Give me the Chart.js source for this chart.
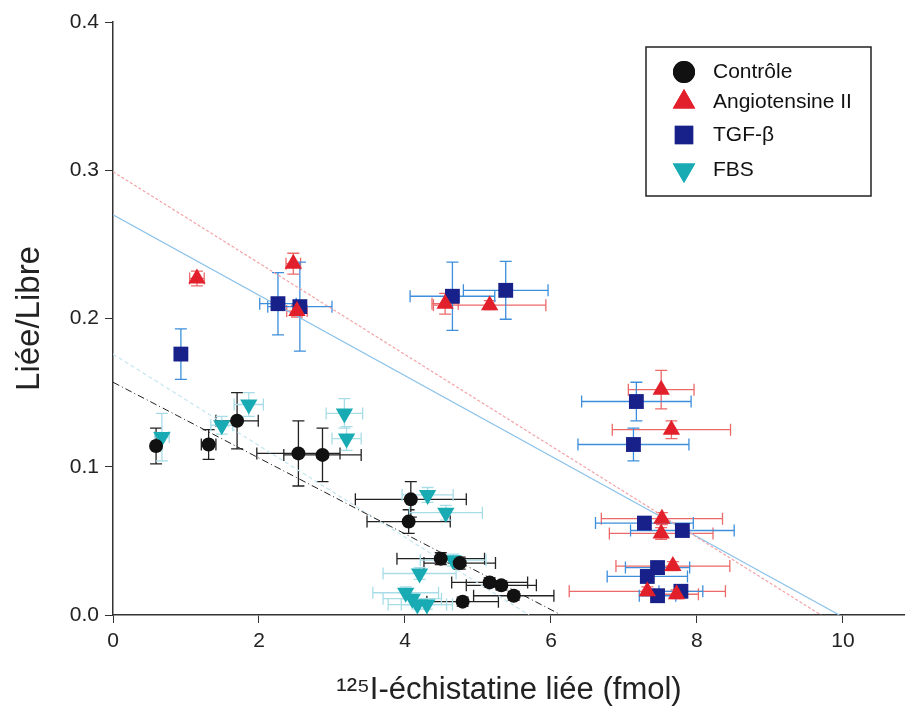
<!DOCTYPE html>
<html>
<head>
<meta charset="utf-8">
<script src="https://cdn.jsdelivr.net/npm/chart.js@4.4.1/dist/chart.umd.min.js"></script>
<style>
  html, body { margin: 0; padding: 0; background: #fff; }
  #wrap { width: 905px; height: 719px; }
</style>
</head>
<body>
<div id="wrap"><canvas id="chart" width="905" height="719"></canvas></div>
<script>
// Contrôle
const ctrlX    = [0.59, 1.31, 1.70, 2.54, 2.87, 4.08, 4.05, 4.49, 4.75, 5.16, 5.32, 5.49, 4.79];
const ctrlY    = [0.114, 0.115, 0.131, 0.109, 0.108, 0.078, 0.063, 0.038, 0.035, 0.022, 0.020, 0.013, 0.009];
const ctrlXErr = [0.05, 0.10, 0.29, 0.57, 0.53, 0.76, 0.57, 0.60, 0.49, 0.52, 0.48, 0.55, 0.49];
const ctrlYErr = [0.012, 0.010, 0.019, 0.022, 0.018, 0.012, 0.008, 0.004, 0.004, 0.003, 0.003, 0.003, 0.003];

// Angiotensine II
const angX    = [1.15, 2.47, 2.52, 4.55, 5.16, 7.51, 7.65, 7.52, 7.51, 7.67, 7.32, 7.72];
const angY    = [0.227, 0.237, 0.205, 0.210, 0.209, 0.152, 0.125, 0.065, 0.055, 0.033, 0.016, 0.014];
const angXErr = [0.10, 0.10, 0.14, 0.18, 0.77, 0.45, 0.81, 0.83, 0.71, 0.78, 1.07, 0.30];
const angYErr = [0.005, 0.007, 0.004, 0.007, 0.003, 0.013, 0.006, 0.004, 0.004, 0.003, 0.003, 0.003];

// TGF-beta
const tgfX    = [0.93, 2.26, 2.56, 4.65, 5.38, 7.17, 7.13, 7.28, 7.80, 7.46, 7.32, 7.46, 7.78];
const tgfY    = [0.176, 0.210, 0.208, 0.215, 0.219, 0.144, 0.115, 0.062, 0.057, 0.032, 0.026, 0.013, 0.016];
const tgfXErr = [0.03, 0.25, 0.44, 0.58, 0.58, 0.75, 0.76, 0.67, 0.71, 0.44, 0.55, 0.25, 0.30];
const tgfYErr = [0.017, 0.021, 0.030, 0.023, 0.0195, 0.013, 0.011, 0.003, 0.003, 0.003, 0.003, 0.003, 0.003];

// FBS
const fbsX    = [0.67, 1.49, 1.86, 3.17, 3.20, 4.31, 4.56, 4.66, 4.20, 4.01, 4.10, 4.17, 4.30];
const fbsY    = [0.120, 0.128, 0.142, 0.136, 0.119, 0.081, 0.069, 0.037, 0.028, 0.015, 0.011, 0.007, 0.007];
const fbsXErr = [0.10, 0.15, 0.20, 0.25, 0.20, 0.35, 0.50, 0.45, 0.50, 0.45, 0.40, 0.40, 0.35];
const fbsYErr = [0.016, 0.006, 0.008, 0.010, 0.008, 0.005, 0.005, 0.004, 0.004, 0.004, 0.004, 0.003, 0.003];

// regression lines: y-intercept and x-intercept
const ctrlFit = { y0: 0.157, x0: 6.14 };
const angFit  = { y0: 0.299, x0: 9.70 };
const tgfFit  = { y0: 0.270, x0: 9.95 };
const fbsFit  = { y0: 0.176, x0: 5.70 };

const xTicksMax = 10.85;
const yTicksMax = 0.4;

const fontFam = '"Liberation Sans", Arial, sans-serif';

function pts(xs, ys, xe, ye) {
  return xs.map((x, i) => ({ x: x, y: ys[i], xErr: xe[i], yErr: ye[i] }));
}
function fitLine(f) {
  return [{ x: 0, y: f.y0 }, { x: f.x0, y: 0 }];
}

const series = [
  { label: 'Contrôle', data: pts(ctrlX, ctrlY, ctrlXErr, ctrlYErr), color: '#111111', errColor: '#222222', style: 'circle', radius: 7, rot: 0, legR: 11 },
  { label: 'Angiotensine II', data: pts(angX, angY, angXErr, angYErr), color: '#e2202c', errColor: '#ec6a6a', style: 'triangle', radius: 10, rot: 0, legR: 13 },
  { label: 'TGF-β', data: pts(tgfX, tgfY, tgfXErr, tgfYErr), color: '#18218a', errColor: '#3d8fdc', style: 'rect', radius: 10.5, rot: 0, legR: 13 },
  { label: 'FBS', data: pts(fbsX, fbsY, fbsXErr, fbsYErr), color: '#18abb3', errColor: '#a8dde8', style: 'triangle', radius: 10, rot: 180, legR: 13 }
];

const lineSets = [
  { data: fitLine(ctrlFit), color: '#222222', dash: [7, 3, 1, 3], width: 1 },
  { data: fitLine(angFit), color: '#f3a3a8', dash: [3, 2], width: 1.2 },
  { data: fitLine(tgfFit), color: '#8cc2ea', dash: [], width: 1.2 },
  { data: fitLine(fbsFit), color: '#c4e6ee', dash: [4, 3], width: 1.2 }
];

const datasets = [];
lineSets.forEach(l => {
  datasets.push({
    type: 'line', data: l.data, borderColor: l.color, borderDash: l.dash, borderWidth: l.width,
    pointRadius: 0, fill: false, order: 10, isFit: true
  });
});
series.forEach(s => {
  datasets.push({
    type: 'scatter', label: s.label, data: s.data,
    backgroundColor: s.color, borderColor: s.color, borderWidth: 0,
    pointStyle: s.style, pointRadius: s.radius, pointRotation: s.rot,
    errColor: s.errColor, legR: s.legR, order: 1
  });
});

const errorBars = {
  id: 'errorBars',
  beforeDatasetsDraw(chart) {
    const ctx = chart.ctx;
    const xs = chart.scales.x, ys = chart.scales.y;
    const cap = 6;
    ctx.save();
    chart.data.datasets.forEach(ds => {
      if (ds.isFit) return;
      ctx.strokeStyle = ds.errColor;
      ctx.lineWidth = 1.3;
      ds.data.forEach(p => {
        const cx = xs.getPixelForValue(p.x), cy = ys.getPixelForValue(p.y);
        const xl = xs.getPixelForValue(p.x - p.xErr), xr = xs.getPixelForValue(p.x + p.xErr);
        const yt = ys.getPixelForValue(p.y + p.yErr), yb = ys.getPixelForValue(p.y - p.yErr);
        ctx.beginPath();
        ctx.moveTo(xl, cy); ctx.lineTo(xr, cy);
        ctx.moveTo(xl, cy - cap); ctx.lineTo(xl, cy + cap);
        ctx.moveTo(xr, cy - cap); ctx.lineTo(xr, cy + cap);
        ctx.moveTo(cx, yt); ctx.lineTo(cx, yb);
        ctx.moveTo(cx - cap, yt); ctx.lineTo(cx + cap, yt);
        ctx.moveTo(cx - cap, yb); ctx.lineTo(cx + cap, yb);
        ctx.stroke();
      });
    });
    ctx.restore();
  }
};

const boxLegend = {
  id: 'boxLegend',
  afterDatasetsDraw(chart) {
    const ctx = chart.ctx;
    const x0 = 646, y0 = 47, w = 225, h = 149;
    const rows = [72, 102, 135, 170];
    ctx.save();
    ctx.fillStyle = '#ffffff';
    ctx.fillRect(x0, y0, w, h);
    ctx.strokeStyle = '#222222';
    ctx.lineWidth = 1.5;
    ctx.strokeRect(x0, y0, w, h);
    ctx.font = '21px ' + fontFam;
    ctx.textBaseline = 'middle';
    ctx.textAlign = 'left';
    let k = 0;
    chart.data.datasets.forEach(ds => {
      if (ds.isFit) return;
      const y = rows[k++];
      ctx.fillStyle = ds.backgroundColor;
      Chart.helpers.drawPoint(ctx, { pointStyle: ds.pointStyle, radius: ds.legR, rotation: ds.pointRotation, borderWidth: 0 }, 684, y);
      ctx.fill();
      ctx.fillStyle = '#111111';
      ctx.fillText(ds.label, 713, y);
    });
    ctx.restore();
  }
};

new Chart(document.getElementById('chart'), {
  type: 'scatter',
  data: { datasets: datasets },
  options: {
    responsive: false,
    animation: false,
    layout: { autoPadding: false, padding: { top: 22, right: 0, left: 0, bottom: 0 } },
    plugins: { legend: { display: false }, tooltip: { enabled: false } },
    scales: {
      x: {
        type: 'linear', min: 0, max: xTicksMax,
        ticks: { stepSize: 2, includeBounds: false, color: '#222', font: { family: fontFam, size: 21 }, padding: 6 },
        grid: { display: true, drawOnChartArea: false, drawTicks: true, tickLength: 8, color: '#333' },
        border: { display: true, color: '#333', width: 1.5 },
        title: { display: true, text: '¹²⁵I-échistatine liée (fmol)', color: '#222', font: { family: fontFam, size: 31 }, padding: { top: 0, bottom: 10 } },
        afterFit(scale) { scale.height = 104; scale.paddingRight = 0; scale.paddingLeft = 0; }
      },
      y: {
        type: 'linear', min: 0, max: yTicksMax,
        ticks: { stepSize: 0.1, color: '#222', font: { family: fontFam, size: 21 }, padding: 6, callback: v => v.toFixed(1) },
        grid: { display: true, drawOnChartArea: false, drawTicks: true, tickLength: 8, color: '#333' },
        border: { display: true, color: '#333', width: 1.5 },
        title: { display: true, text: 'Liée/Libre', color: '#222', font: { family: fontFam, size: 33 }, padding: { top: 10, bottom: 0 } },
        afterFit(scale) { scale.width = 113; }
      }
    }
  },
  plugins: [errorBars, boxLegend]
});
</script>
</body>
</html>
